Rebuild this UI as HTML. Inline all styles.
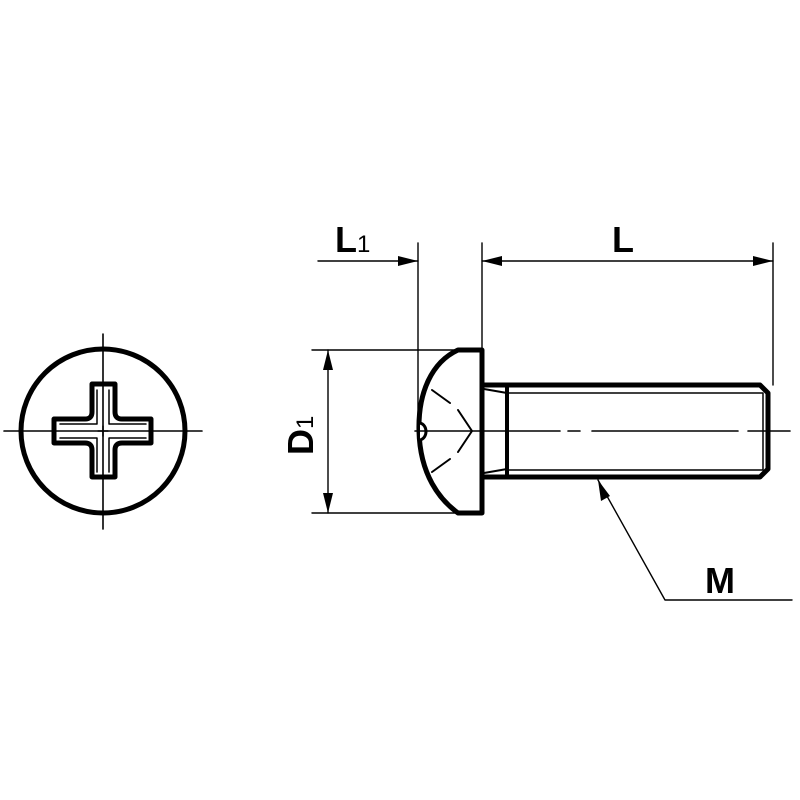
<!DOCTYPE html>
<html><head><style>body{margin:0;background:#fff}svg{display:block}</style></head><body>
<svg width="800" height="800" viewBox="0 0 800 800" xmlns="http://www.w3.org/2000/svg">
<g fill="none" stroke="#000" stroke-linecap="round" stroke-linejoin="round">
<!-- front view -->
<circle cx="103" cy="431" r="82" stroke-width="5"/>
<line x1="4" y1="431" x2="202" y2="431" stroke-width="1.6"/>
<line x1="103" y1="334" x2="103" y2="529" stroke-width="1.6"/>
<path d="M92,384 H115 V412 Q115,419 122,419 H151 V443 H122 Q115,443 115,450 V477 H92 V450 Q92,443 85,443 H54 V419 H85 Q92,419 92,412 Z" stroke-width="5"/>
<path d="M97,390 V424 H60 M109,390 V424 H146 M60,438 H97 V472 M146,438 H109 V472" stroke-width="1.5"/>
<path d="M98,431 H108 M103,426 V436" stroke-width="1.5"/>
<!-- side view head -->
<path d="M482,350 H458 C432,362 418,392 419,431 C420,475 440,500 458,513 H482 Z" stroke-width="5" fill="#fff"/>
<path d="M420,423 C428,425 428,438 420,440" stroke-width="3" fill="#fff"/>
<path d="M432,390 L450,403 M458,410 L472,431 L458,452 M432,472 L450,459" stroke-width="2"/>
<!-- shank -->
<path d="M482,385 H760 L768,393 V469 L760,477 H482" stroke-width="5"/>
<path d="M484,389 L507,393 V469 L484,473" stroke-width="2"/>
<line x1="507" y1="386" x2="507" y2="476" stroke-width="4"/>
<path d="M507,393 H763 M507,470 H763 M763,393 V470" stroke-width="1.5"/>
<path d="M415,431 H560 M568,431 H580 M592,431 H738 M748,431 H790" stroke-width="1.6"/>
<!-- dimensions -->
<g stroke-width="1.4">
<line x1="418" y1="243" x2="418" y2="422"/>
<line x1="482" y1="243" x2="482" y2="350"/>
<line x1="773" y1="243" x2="773" y2="385"/>
<line x1="318" y1="261" x2="418" y2="261"/>
<line x1="482" y1="261" x2="773" y2="261"/>
<line x1="312" y1="350" x2="456" y2="350"/>
<line x1="312" y1="513" x2="456" y2="513"/>
<line x1="328" y1="350" x2="328" y2="513"/>
<path d="M598,480 L665,600 H792"/>
</g>
</g>
<g fill="#000">
<path d="M418,261 l-20,-5 v10 z"/>
<path d="M482,261 l20,-5 v10 z"/>
<path d="M773,261 l-20,-5 v10 z"/>
<path d="M328,350 l-5,20 h10 z"/>
<path d="M328,513 l-5,-20 h10 z"/>
<path d="M598,480 l3,21 l9,-5 z"/>
</g>
<g font-family="Liberation Sans, sans-serif" font-weight="bold" fill="#000">
<text x="335" y="252" font-size="36">L<tspan font-size="24" font-weight="normal">1</tspan></text>
<text x="612" y="252" font-size="36">L</text>
<text x="705" y="593" font-size="36">M</text>
<text transform="translate(313,455) rotate(-90)" font-size="36">D<tspan font-size="24" font-weight="normal">1</tspan></text>
</g>
</svg>
</body></html>
